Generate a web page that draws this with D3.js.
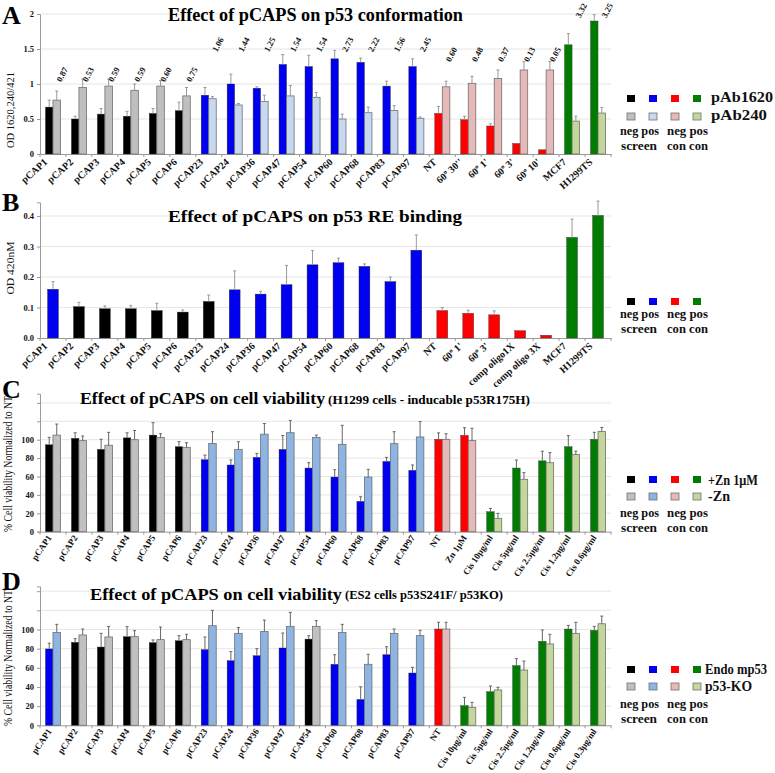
<!DOCTYPE html>
<html><head><meta charset="utf-8">
<script src="https://cdn.jsdelivr.net/npm/d3@7"></script>
<style>
body{margin:0;background:#fff}
svg text{font-family:'Liberation Serif','Times New Roman',serif;}
</style>
</head><body><svg id="c" width="775" height="773"></svg>
<script>
// ---------------- DATA ----------------
const pcaps = ["pCAP1","pCAP2","pCAP3","pCAP4","pCAP5","pCAP6","pCAP23","pCAP24","pCAP36","pCAP47","pCAP54","pCAP60","pCAP68","pCAP83","pCAP97"];

// Panel A
const catsA = pcaps.concat(["NT","60º 30''","60º 1'","60º 3'","60º 10'","MCF7","H1299TS"]);
const typesA = ["neg","neg","neg","neg","neg","neg","pos","pos","pos","pos","pos","pos","pos","pos","pos","negc","negc","negc","negc","negc","posc","posc"];
const pAb1620 = [0.67,0.50,0.57,0.54,0.58,0.62,0.84,1.00,0.94,1.28,1.25,1.36,1.31,0.97,1.25,0.58,0.49,0.40,0.15,0.06,1.56,1.90];
const pAb1620Err = [0.10,0.04,0.08,0.07,0.07,0.12,0.11,0.14,0.02,0.14,0.16,0.12,0.06,0.07,0.11,0.10,0.05,0.03,0,0,0.16,0.09];
const pAb240 = [0.77,0.95,0.97,0.91,0.97,0.83,0.79,0.70,0.75,0.83,0.81,0.50,0.59,0.62,0.51,0.96,1.01,1.08,1.20,1.20,0.47,0.585];
const pAb240Err = [0.13,0.12,0.10,0.09,0.08,0.12,0.03,0.02,0.09,0.15,0.07,0.07,0.08,0.07,0.02,0.08,0.10,0.12,0.12,0.12,0.07,0.08];
const ratioA = ["0.87","0.53","0.59","0.59","0.60","0.75","1.06","1.44","1.25","1.54","1.54","2.73","2.22","1.56","2.45","0.60","0.48","0.37","0.13","0.05","3.32","3.25"];
const ticksA = [0,0.5,1,1.5,2];

// Panel B
const catsB = pcaps.concat(["NT","60º 1'","60º 3'","comp oligo1X","comp oligo 3X","MCF7","H1299TS"]);
const typesB = ["pos","neg","neg","neg","neg","neg","neg","pos","pos","pos","pos","pos","pos","pos","pos","negc","negc","negc","negc","negc","posc","posc"];
const reBinding = [0.160,0.103,0.096,0.096,0.090,0.085,0.120,0.158,0.144,0.175,0.240,0.247,0.235,0.185,0.288,0.090,0.081,0.076,0.024,0.009,0.330,0.402];
const reBindingErr = [0.025,0.014,0.009,0.011,0.024,0.007,0.021,0.062,0.009,0.063,0.047,0.015,0.008,0.015,0.050,0.010,0.010,0.013,0,0,0.060,0.047];
const ticksB = [0,0.1,0.2,0.3,0.4];

// Panel C
const catsC = pcaps.concat(["NT","Zn 1μM","Cis 10μg/ml","Cis 5μg/ml","Cis 2.5μg/ml","Cis 1.2μg/ml","Cis 0.6μg/ml"]);
const typesC = ["neg","neg","neg","neg","neg","neg","pos","pos","pos","pos","pos","pos","pos","pos","pos","negc","negc","posc","posc","posc","posc","posc"];
const znPlus = [94.5,101.5,89.5,102,105,92.4,78.3,72.5,80.8,89.5,69.2,59.4,33,76.4,66.7,100.4,104.7,21.7,69.2,77,92.4,100.4];
const znPlusErr = [8,6,11,5.5,13.5,5.5,5,5.5,4.3,15,5.8,8,5,4.4,5.8,7,8.3,3.6,8.7,10.5,12,7.6];
const znMinus = [105,99,94,100,102.5,91.7,96,89.5,106,107.6,102.5,95,59.4,95.7,103,100.4,99,14.5,57,75,84,109];
const znMinusErr = [12,5,14,10,4,5,12.7,8.3,11.6,13.4,2.5,20.6,8.4,13,16.7,6,13.4,5.4,7.2,11,3.6,4.3];
const ticksCD = [0,20,40,60,80,100,120,140];

// Panel D
const catsD = pcaps.concat(["NT","Cis 10μg/ml","Cis 5μg/ml","Cis 2.5μg/ml","Cis 1.2μg/ml","Cis 0.6μg/ml","Cis 0.3μg/ml"]);
const typesD = ["pos","neg","neg","neg","neg","neg","pos","pos","pos","pos","neg","pos","pos","pos","pos","negc","posc","posc","posc","posc","posc","posc"];
const endoMp53 = [79.7,86.6,81.7,92.5,86.3,88.3,79,67.5,72.7,80.7,90,63.7,27,73.7,54.6,100.5,20.5,35.1,62.3,87.7,100.5,99.1];
const endoMp53Err = [6,3.8,14.3,10.4,2.8,5.2,13.2,9.4,7.3,15.6,3.5,10,13.2,8.3,5.9,7,8.7,5.9,7.3,11.8,3.8,4.2];
const p53KO = [97,94.3,92.2,92.5,89.4,89.4,104,96,98,103.3,103.3,97,63.7,96,93.6,100.5,18.8,36.9,57.7,84.9,96,106];
const p53KOErr = [8.4,6.2,11,6.3,13.2,5.6,16,6,11.8,14.6,6,8.4,10.4,4.5,5.5,7,5.2,2.8,9.4,10.1,11.5,8];

// ---------------- STYLE ----------------
const paletteA = {neg:["#000000","#bfbfbf"],pos:["#0000ee","#c6d9f1"],negc:["#ff0000","#e6b9b8"],posc:["#007d00","#c4d79b"]};
const paletteB = {neg:["#000000","#bfbfbf"],pos:["#0000ee","#c6d9f1"],negc:["#ff0000","#e6b9b8"],posc:["#007d00","#c4d79b"]};
const paletteCD = {neg:["#000000","#c0c0c0"],pos:["#0000ee","#8db4e2"],negc:["#ff0000","#e6b9b8"],posc:["#007d00","#c4d79b"]};
const SERIF = "'Liberation Serif','Times New Roman',serif";
const NARROW = "'Liberation Sans Narrow','Arial Narrow','Liberation Sans',sans-serif";

const svg = d3.select("#c");
const X0 = 40, X1 = 611;

function panel(o){
  const g = svg.append("g");
  const x = d3.scaleBand().domain(o.cats).range([X0,X1]).paddingInner(o.pad).paddingOuter(o.pad/2);
  const y = d3.scaleLinear().domain(o.domain).range(o.range);
  const y0 = y(0);
  g.selectAll("line.grid").data(o.ticks.filter(t=>t>0)).join("line")
    .attr("x1",X0+1).attr("x2",X1).attr("y1",d=>y(d)).attr("y2",d=>y(d))
    .attr("stroke","#e6e6e6").attr("stroke-width",1);
  const ya = g.append("g").attr("transform",`translate(${X0},0)`)
    .call(d3.axisLeft(y).tickValues(o.ticks).tickSize(3).tickFormat(o.fmt));
  ya.select(".domain").attr("stroke","#9a9a9a");
  ya.selectAll(".tick line").attr("stroke","#9a9a9a");
  ya.selectAll("text").attr("font-family",SERIF).attr("font-weight","bold").attr("font-size",8.5).attr("fill","#111").attr("x",-6);
  const xa = g.append("g").attr("transform",`translate(0,${y0})`)
    .call(d3.axisBottom(x).tickSize(0).tickFormat(""));
  xa.select(".domain").attr("stroke","#9a9a9a");
  const gap = (x.step()-x.bandwidth())/2;
  g.selectAll("line.xt").data(o.cats).join("line")
    .attr("x1",d=>x(d)-gap).attr("x2",d=>x(d)-gap).attr("y1",y0).attr("y2",y0+3)
    .attr("stroke","#9a9a9a");
  g.append("line").attr("x1",X1).attr("x2",X1).attr("y1",y0).attr("y2",y0+3).attr("stroke","#9a9a9a");
  const series = o.series;
  const sub = d3.scaleBand().domain(d3.range(series.length)).range([0,x.bandwidth()]);
  series.forEach((s,k)=>{
    const data = o.cats.map((c,i)=>({c,i,v:s.v[i],e:s.e[i],t:o.types[i]}));
    g.selectAll(null).data(data).join("rect")
      .attr("x",d=>x(d.c)+sub(k)).attr("width",sub.bandwidth())
      .attr("y",d=>y(d.v)).attr("height",d=>y0-y(d.v))
      .attr("fill",d=>o.palette[d.t][k])
      .attr("stroke",k===0?"#333":"#707070").attr("stroke-width",k===0?0.4:0.8);
    const eb = data.filter(d=>d.e>0);
    g.selectAll(null).data(eb).join("line")
      .attr("x1",d=>x(d.c)+sub(k)+sub.bandwidth()/2).attr("x2",d=>x(d.c)+sub(k)+sub.bandwidth()/2)
      .attr("y1",d=>y(d.v)).attr("y2",d=>y(d.v+d.e)).attr("stroke",o.ebColor).attr("stroke-width",1);
    g.selectAll(null).data(eb).join("line")
      .attr("x1",d=>x(d.c)+sub(k)+sub.bandwidth()/2-1.5).attr("x2",d=>x(d.c)+sub(k)+sub.bandwidth()/2+1.5)
      .attr("y1",d=>y(d.v+d.e)).attr("y2",d=>y(d.v+d.e)).attr("stroke",o.ebColor).attr("stroke-width",1);
  });
  g.selectAll(null).data(o.cats).join("text")
    .attr("transform",d=>`translate(${x(d)+x.bandwidth()/2+o.lab.dx},${y0+o.lab.dy}) rotate(${o.lab.rot})`)
    .attr("text-anchor","end").attr("font-family",o.lab.font).attr("font-weight","bold")
    .attr("font-size",o.lab.size).attr("fill","#111").text(d=>d);
  return {g,x,y};
}

function legend(rows, sqY, labY, labX, labSize, labLen, negY, screenY, palette){
  const g = svg.append("g");
  const sx = [627,649,671,693];
  const keys = ["neg","pos","negc","posc"];
  rows.forEach((lab,r)=>{
    keys.forEach((k,j)=>{
      g.append("rect").attr("x",sx[j]).attr("y",sqY[r]).attr("width",8).attr("height",7)
        .attr("fill",palette[k][r]).attr("stroke",r===0?"none":"#707070").attr("stroke-width",0.8);
    });
    if(lab) g.append("text").attr("x",labX).attr("y",labY[r]).attr("font-weight","bold")
      .attr("font-size",labSize).attr("fill","#111")
      .attr("textLength",labLen[r]).attr("lengthAdjust","spacingAndGlyphs").text(lab);
  });
  const t = (x,yy,s,len)=>g.append("text").attr("x",x).attr("y",yy).attr("font-weight","bold")
      .attr("font-size",13).attr("fill","#111").attr("textLength",len).attr("lengthAdjust","spacingAndGlyphs").text(s);
  t(620,negY,"neg pos",39); t(667,negY,"neg pos",41);
  t(621,screenY,"screen",36); t(667,screenY,"con con",41);
}

function letter(s,x,y){ svg.append("text").attr("x",x).attr("y",y).attr("font-weight","bold").attr("font-size",26).attr("fill","#000").text(s); }
function ylabel(s,x,y,size,len,font){
  const t = svg.append("text").attr("transform",`translate(${x},${y}) rotate(-90)`).attr("text-anchor","middle")
    .attr("font-size",size).attr("font-family",font||SERIF).attr("fill","#111").text(s);
  if(len) t.attr("textLength",len).attr("lengthAdjust","spacingAndGlyphs");
}

// ---------- Panel A ----------
const A = panel({cats:catsA,types:typesA,pad:0.42,domain:[0,2],range:[154,14],ticks:ticksA,fmt:d=>d,
  series:[{v:pAb1620,e:pAb1620Err},{v:pAb240,e:pAb240Err}],palette:paletteA,ebColor:"#999",
  lab:{dx:-5,dy:9,rot:-42,size:10,font:SERIF}});
const ratioY = {neg:75,pos:45,negc:55,posc:11};
A.g.selectAll(null).data(catsA).join("text")
  .attr("transform",(d,i)=>`translate(${A.x(d)+A.x.bandwidth()/2+10},${ratioY[typesA[i]]}) rotate(-62)`)
  .attr("text-anchor","middle").attr("dominant-baseline","middle").attr("font-weight","bold").attr("font-size",8.5).attr("fill","#111")
  .text((d,i)=>ratioA[i]);
svg.append("text").attr("x",168).attr("y",21).attr("font-weight","bold").attr("font-size",18).attr("textLength",295).attr("lengthAdjust","spacingAndGlyphs").text("Effect of pCAPS on p53 conformation");
letter("A",2,24);
ylabel("OD 1620,240/421",14,110,11,76);
legend(["pAb1620","pAb240"],[95,113],[102,120],711,15,[62,56],135,150,paletteA);

// ---------- Panel B ----------
const B = panel({cats:catsB,types:typesB,pad:0.58,domain:[0,0.445],range:[338,202.3],ticks:ticksB,fmt:d3.format(".1f"),
  series:[{v:reBinding,e:reBindingErr}],palette:paletteB,ebColor:"#999",
  lab:{dx:-5,dy:9,rot:-42,size:10,font:SERIF}});
svg.append("text").attr("x",168).attr("y",222).attr("font-weight","bold").attr("font-size",17).attr("textLength",294).attr("lengthAdjust","spacingAndGlyphs").text("Effect of pCAPS on p53 RE binding");
letter("B",2,211);
ylabel("OD 420nM",14,268,11,53);
legend([null],[298],[0],0,0,[0],318,333,paletteB);

// ---------- Panel C ----------
const C = panel({cats:catsC,types:typesC,pad:0.42,domain:[0,150],range:[531.7,393.7],ticks:ticksCD,fmt:d=>d<=100?d:"",
  series:[{v:znPlus,e:znPlusErr},{v:znMinus,e:znMinusErr}],palette:paletteCD,ebColor:"#666",
  lab:{dx:-1,dy:6,rot:-56,size:9,font:NARROW}});
svg.append("text").attr("x",80).attr("y",404).attr("font-weight","bold").attr("font-size",17).attr("textLength",245).attr("lengthAdjust","spacingAndGlyphs").text("Effect  of  pCAPS  on  cell  viability");
svg.append("text").attr("x",328).attr("y",404).attr("font-weight","bold").attr("font-size",12).attr("textLength",202).attr("lengthAdjust","spacingAndGlyphs").text("(H1299 cells - inducable p53R175H)");
letter("C",2,398);
ylabel("% Cell viability  Normalized to NT",12,464,12,136,NARROW);
legend(["+Zn 1μM","-Zn"],[476,493],[485,501],708,14,[50,22],517,532,paletteCD);

// ---------- Panel D ----------
const D = panel({cats:catsD,types:typesD,pad:0.42,domain:[0,145],range:[725.3,586.4],ticks:ticksCD,fmt:d=>d<=100?d:"",
  series:[{v:endoMp53,e:endoMp53Err},{v:p53KO,e:p53KOErr}],palette:paletteCD,ebColor:"#666",
  lab:{dx:-1,dy:6,rot:-56,size:9,font:NARROW}});
svg.append("text").attr("x",90).attr("y",600).attr("font-weight","bold").attr("font-size",17).attr("textLength",252).attr("lengthAdjust","spacingAndGlyphs").text("Effect  of  pCAPS  on  cell  viability");
svg.append("text").attr("x",345).attr("y",599).attr("font-weight","bold").attr("font-size",12).attr("textLength",158).attr("lengthAdjust","spacingAndGlyphs").text("(ES2 cells  p53S241F/ p53KO)");
letter("D",2,590);
ylabel("% Cell viability  Normalized to NT",12,658,12,136,NARROW);
legend(["Endo mp53","p53-KO"],[666,683],[674,691],705,14.5,[62,47],708,723,paletteCD);
</script>
</body></html>
